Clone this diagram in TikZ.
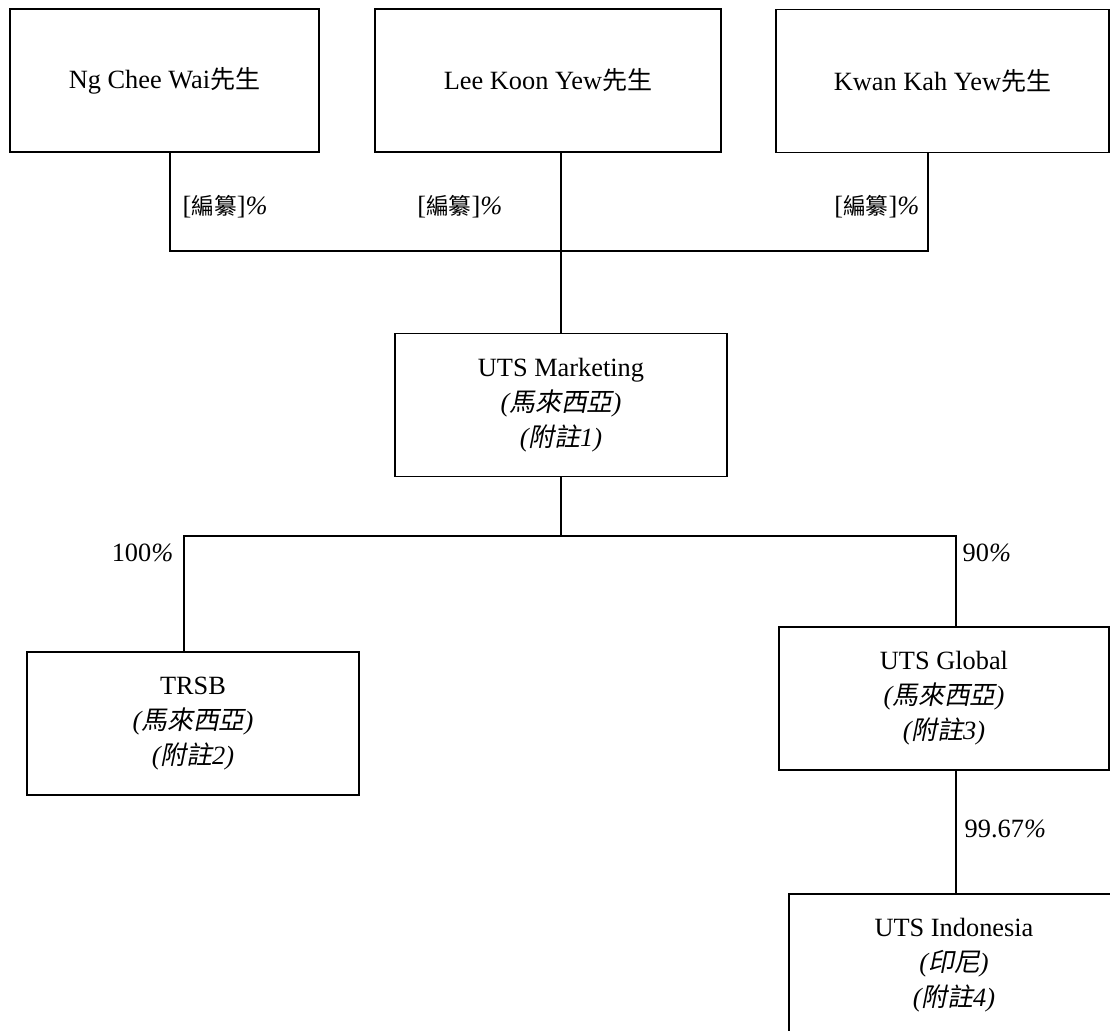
\documentclass[tikz,border=0pt]{standalone}
\usepackage{fontspec}
\usepackage{tikz}
\setmainfont{Liberation Serif}
\newfontfamily\cjk[Scale=0.86]{Noto Sans CJK TC}
\newfontfamily\cjkname[Scale=0.95]{Noto Sans CJK TC}
\newfontfamily\cjkit[Scale=0.98,FakeSlant=0.2]{Noto Sans CJK TC}
\newcommand\zh[1]{{\cjk #1}}
\newcommand\zhname[1]{{\cjkname #1}}
\newcommand\zhit[1]{{\cjkit #1}}
\tikzset{
  entity/.style={draw, line width=0.8pt, align=center, inner sep=0pt, minimum height=2.86cm},
  pct/.style={inner sep=0pt}
}
\begin{document}
\begin{tikzpicture}[x=0.02cm, y=-0.02cm, line width=0.8pt,
  every node/.style={font=\fontsize{15pt}{20pt}\selectfont}]
\clip (0,0) rectangle (1110,1031);
\node[entity, minimum width=6.18cm] (ng) at (164.5,80.5) {Ng Chee Wai\zhname{先生}};
\node[entity, minimum width=6.92cm] (lee) at (548,80.5) {Lee Koon Yew\zhname{先生}};
\node[entity, minimum width=6.66cm] (kwan) at (942.5,81) {Kwan Kah Yew\zhname{先生}};
\node[entity, minimum width=6.64cm] (mkt) at (561,405) {UTS Marketing\\ {\itshape (\zhit{馬來西亞})}\\ {\itshape (\zhit{附註}1)}};
\node[entity, minimum width=6.64cm] (trsb) at (193,723.5) {TRSB\\ {\itshape (\zhit{馬來西亞})}\\ {\itshape (\zhit{附註}2)}};
\node[entity, minimum width=6.6cm] (glob) at (944,698.5) {UTS Global\\ {\itshape (\zhit{馬來西亞})}\\ {\itshape (\zhit{附註}3)}};
\node[entity, minimum width=6.6cm] (indo) at (954,965.5) {UTS Indonesia\\ {\itshape (\zhit{印尼})}\\ {\itshape (\zhit{附註}4)}};
\coordinate (tl) at (170,251);
\coordinate (tr) at (928,251);
\coordinate (bl) at (184,536);
\coordinate (br) at (956,536);
\draw (ng.south -| tl) -- (tl) -- (tr) -- (kwan.south -| tr);
\draw (lee.south -| mkt.north) -- (mkt.north);
\draw (mkt.south) -- (mkt.south |- bl);
\draw (trsb.north -| bl) -- (bl) -- (br) -- (glob.north -| br);
\draw (glob.south -| br) -- (indo.north -| br);
\node[pct, anchor=west] (p1) at (182,207) {[\zh{編纂}]\textit{\%}};
\node[pct, anchor=east] (p2) at (503,207) {[\zh{編纂}]\textit{\%}};
\node[pct, anchor=east] (p3) at (920,207) {[\zh{編纂}]\textit{\%}};
\node[pct, anchor=east] (p4) at (174,553) {100\textit{\%}};
\node[pct, anchor=west] (p5) at (962,553) {90\textit{\%}};
\node[pct, anchor=west] (p6) at (964,829) {99.67\textit{\%}};
\end{tikzpicture}
\end{document}
